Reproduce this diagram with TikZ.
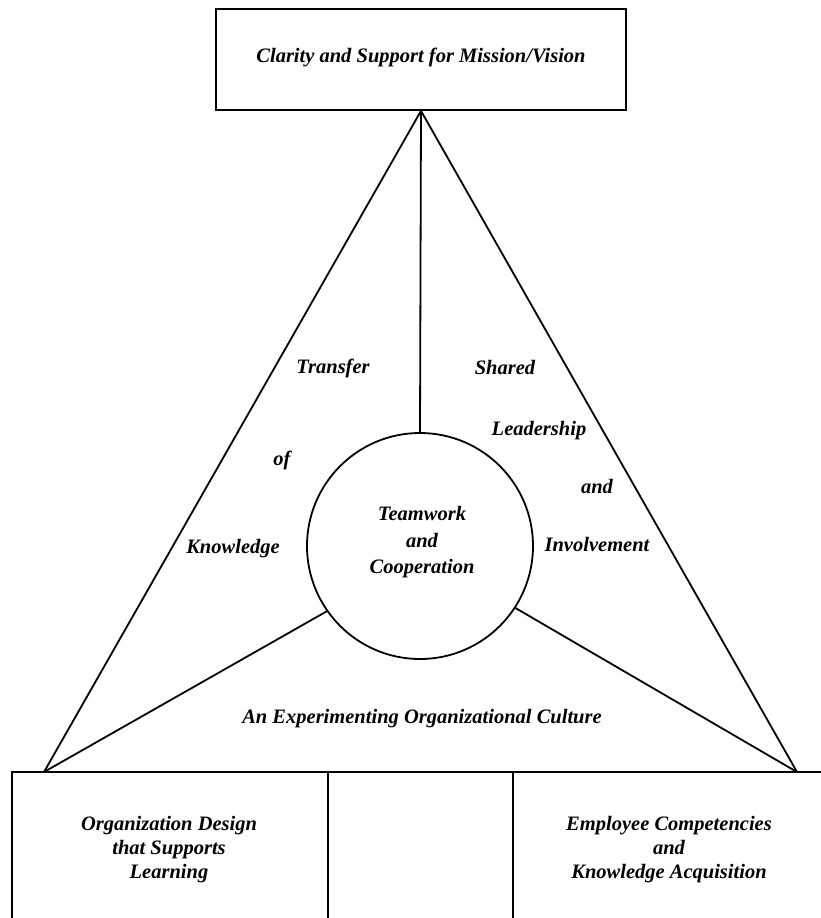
\documentclass[tikz,border=0pt]{standalone}
\usepackage{fontspec}
\setmainfont{Liberation Serif}
\begin{document}
\begin{tikzpicture}[x=1pt,y=-1pt,line width=1.8pt,
  lbl/.style={font=\fontsize{20.5}{24}\selectfont\bfseries\itshape, inner sep=0pt, anchor=base},
  boxnode/.style={draw, rectangle, inner sep=0pt}]
\useasboundingbox (0,0) rectangle (820,918);
% top box
\node[boxnode, minimum width=410pt, minimum height=101pt] (mission) at (421,59.5) {};
\node[lbl] (missiontxt) at (421,62) {Clarity and Support for Mission/Vision};
% circle
\node[draw, circle, minimum size=226pt, inner sep=0pt] (team) at (420,546) {};
\node[lbl] (team1) at (422,520) {Teamwork};
\node[lbl] (team2) at (422,547) {and};
\node[lbl] (team3) at (422,573) {Cooperation};
% vertices
\coordinate (L) at (44,772);
\coordinate (R) at (797,772);
\draw (L) -- (mission.south) -- (R);
\draw (mission.south) -- (team.north);
\draw (L) -- (team.215);
\draw (R) -- (team.-33);
% bottom boxes
\node[boxnode, minimum width=316pt, minimum height=170pt] (org) at (170,857) {};
\node[boxnode, minimum width=185pt, minimum height=170pt] (mid) at (420.5,857) {};
\node[boxnode, minimum width=330pt, minimum height=170pt] (emp) at (678,857) {};
% side labels
\node[lbl] (tr1) at (333,373) {Transfer};
\node[lbl] (tr2) at (282,465) {of};
\node[lbl] (tr3) at (233,553) {Knowledge};
\node[lbl] (sh1) at (505,374) {Shared};
\node[lbl] (sh2) at (539,435) {Leadership};
\node[lbl] (sh3) at (597,493) {and};
\node[lbl] (sh4) at (597,551) {Involvement};
\node[lbl] (culture) at (422,723) {An Experimenting Organizational Culture};
% bottom labels
\node[lbl] (o1) at (169,830) {Organization Design};
\node[lbl] (o2) at (169,854) {that Supports};
\node[lbl] (o3) at (169,878) {Learning};
\node[lbl] (e1) at (669,830) {Employee Competencies};
\node[lbl] (e2) at (669,854) {and};
\node[lbl] (e3) at (669,878) {Knowledge Acquisition};
\end{tikzpicture}
\end{document}
